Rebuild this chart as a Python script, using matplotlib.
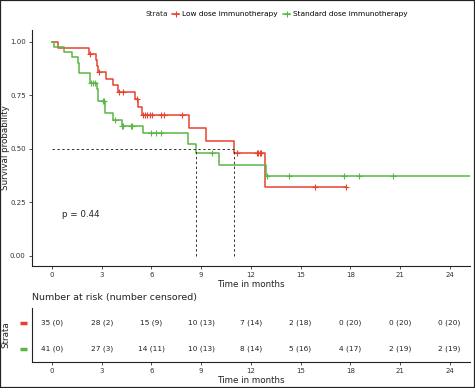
# Kaplan-Meier style survival plot with number-at-risk table
import numpy as np
import matplotlib.pyplot as plt
from matplotlib.patches import Rectangle
from matplotlib.lines import Line2D

groups = ['Low dose immunotherapy', 'Standard dose immunotherapy']
colors = ['#E8412F', '#5BB547']

# step times and survival after each step
low_t = [0, 0.38, 2.23, 2.65, 2.73, 2.8, 3.26, 3.66, 4.0, 5.0, 5.2, 5.4, 8.29, 9.29, 11.0, 12.85, 17.75]
low_s = [1.0, 0.971, 0.943, 0.914, 0.886, 0.857, 0.827, 0.797, 0.766, 0.731, 0.694, 0.657, 0.598, 0.538, 0.478, 0.319, 0.319]
low_cens = [2.3, 2.85, 4.07, 4.3, 5.13, 5.47, 5.6, 5.75, 5.91, 6.05, 6.56, 6.74, 7.83,
            11.15, 12.35, 12.45, 12.55, 12.6, 15.9, 17.75]

std_t = [0, 0.14, 0.74, 1.19, 1.55, 1.65, 2.29, 2.7, 2.8, 3.2, 3.7, 4.2, 5.47, 8.23, 8.69, 10.1, 12.9, 25.2]
std_s = [1.0, 0.976, 0.951, 0.927, 0.902, 0.854, 0.805, 0.778, 0.724, 0.666, 0.636, 0.605, 0.572, 0.522, 0.478, 0.424, 0.372, 0.372]
std_cens = [2.35, 2.5, 2.6, 3.05, 3.14, 3.8, 4.24, 4.3, 4.75, 4.8, 5.98, 6.3, 6.58,
            9.64, 13.0, 14.3, 17.64, 18.55, 20.6]

medians = [11.0, 8.69]
p_text = 'p = 0.44'

risk_times = [0, 3, 6, 9, 12, 15, 18, 21, 24]
low_risk = ['35 (0)', '28 (2)', '15 (9)', '10 (13)', '7 (14)', '2 (18)', '0 (20)', '0 (20)', '0 (20)']
std_risk = ['41 (0)', '27 (3)', '14 (11)', '10 (13)', '8 (14)', '5 (16)', '4 (17)', '2 (19)', '2 (19)']

W, H = 475, 388
fig = plt.figure(figsize=(W / 100, H / 100), dpi=100)
fig.patches.append(Rectangle((0, 0), 1, 1, transform=fig.transFigure, fill=False,
                             edgecolor='#222222', linewidth=1.6))

txt = '#222222'
fs = 5.0

def px(x0, y0, x1, y1):
    return [x0 / W, 1 - y1 / H, (x1 - x0) / W, (y1 - y0) / H]

ax = fig.add_axes(px(32, 30, 470, 266))
for t, s, c, col in [(low_t, low_s, low_cens, colors[0]), (std_t, std_s, std_cens, colors[1])]:
    ax.plot(t, s, drawstyle='steps-post', color=col, lw=1.1)
    idx = np.searchsorted(t, c, side='right') - 1
    ax.plot(c, np.array(s)[idx], ls='none', marker='+', color=col, markersize=4, mew=0.8)

ax.plot([0, max(medians)], [0.5, 0.5], ls=(0, (2.5, 2.5)), color='#333333', lw=0.7)
for m in medians:
    ax.plot([m, m], [0, 0.5], ls=(0, (2.5, 2.5)), color='#333333', lw=0.7)

ax.text(0.6, 0.195, p_text, fontsize=6.3, color=txt, va='center')

ax.set_xlim(-1.21, 25.23)
ax.set_ylim(-0.048, 1.055)
ax.set_xticks(risk_times)
ax.set_yticks([0, 0.25, 0.5, 0.75, 1.0])
ax.set_yticklabels(['0.00', '0.25', '0.50', '0.75', '1.00'])
for side in ['top', 'right']:
    ax.spines[side].set_visible(False)
for side in ['left', 'bottom']:
    ax.spines[side].set_linewidth(0.8)
    ax.spines[side].set_color('#222222')
ax.tick_params(labelsize=fs, colors='#333333', length=2.5, width=0.6, pad=2)
ax.set_xlabel('Time in months', fontsize=6.3, color=txt, labelpad=1)
ax.set_ylabel('Survival probability', fontsize=6.3, color=txt)
ax.yaxis.set_label_coords(-0.05, 0.5)

handles = [Line2D([], [], color=col, lw=1.1, marker='+', markersize=4, mew=0.8) for col in colors]
fig.text(146 / W, 1 - 14 / H, 'Strata', fontsize=5.3, color=txt, va='center')
fig.legend(handles, groups, loc='center left', bbox_to_anchor=(172 / W, 1 - 14 / H), ncol=2,
           frameon=False, fontsize=5.3, handlelength=1.0, handletextpad=0.4,
           columnspacing=0.7, borderaxespad=0, borderpad=0)

# risk table
tb = fig.add_axes(px(32, 308, 470, 362))
for i, (vals, col) in enumerate([(low_risk, colors[0]), (std_risk, colors[1])]):
    for x, v in zip(risk_times, vals):
        tb.text(x, i, v, ha='center', va='center', fontsize=5.3, color=txt)
    tb.plot([-1.95, -1.5], [i, i], color=col, lw=2.5, clip_on=False, solid_capstyle='butt')
tb.set_xlim(-1.21, 25.23)
tb.set_ylim(1.5, -0.577)
tb.set_yticks([])
tb.set_xticks(risk_times)
for side in ['top', 'right']:
    tb.spines[side].set_visible(False)
for side in ['left', 'bottom']:
    tb.spines[side].set_linewidth(0.8)
    tb.spines[side].set_color('#222222')
tb.tick_params(labelsize=fs, colors='#333333', length=2.5, width=0.6, pad=2)
tb.set_xlabel('Time in months', fontsize=6.3, color=txt, labelpad=1)
tb.set_ylabel('Strata', fontsize=6.3, color=txt)
tb.yaxis.set_label_coords(-0.05, 0.5)
tb.set_title('Number at risk (number censored)', fontsize=6.8, color=txt, loc='left',
             pad=6, x=0.0)

fig.savefig('out.png', dpi=100)
